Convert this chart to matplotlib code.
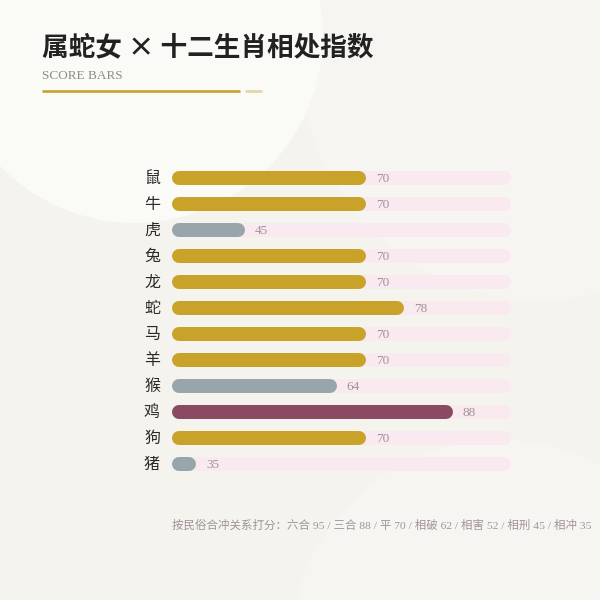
import matplotlib
matplotlib.use("Agg")
import matplotlib.pyplot as plt
from matplotlib.patches import Circle

# data
zodiac = ["鼠", "牛", "虎", "兔", "龙", "蛇", "马", "羊", "猴", "鸡", "狗", "猪"]
scores = [70, 70, 45, 70, 70, 78, 70, 70, 64, 88, 70, 35]
kinds = ["gold", "gold", "grey", "gold", "gold", "gold", "gold", "gold", "grey", "plum", "gold", "grey"]
title = "属蛇女 × 十二生肖相处指数"
subtitle = "SCORE BARS"
note = "按民俗合冲关系打分：六合 95 / 三合 88 / 平 70 / 相破 62 / 相害 52 / 相刑 45 / 相冲 35"

colors = {"gold": "#c9a22a", "grey": "#98a5ab", "plum": "#8a4a62"}
TRACK = "#f8eaef"
VAL_COLOR = "#a2929b"
CJK = "Noto Sans CJK SC"
SERIF = "Liberation Serif"

W, H, DPI = 600, 600, 100
fig = plt.figure(figsize=(W / DPI, H / DPI), dpi=DPI)
fig.patch.set_facecolor("#f4f3ee")

def fx(px):
    return px / W

def fy(py):
    return 1 - py / H

# soft background shapes
bg = fig.add_axes([0, 0, 1, 1], zorder=-5)
bg.set_xlim(0, W)
bg.set_ylim(H, 0)
bg.axis("off")
bg.add_patch(Circle((540, 60), 240, color="#f6f5f1", lw=0, zorder=0))
bg.add_patch(Circle((135, 35), 188, color="#fafaf7", lw=0, zorder=1))
bg.add_patch(Circle((500, 650), 210, color="#f6f5f1", lw=0, zorder=0))

# header
fig.text(fx(42), fy(48), title, fontsize=19.2, fontweight="bold", family=CJK,
         color="#222222", va="center", ha="left")
fig.text(fx(42), fy(76), subtitle, fontsize=9.5, family=SERIF,
         color="#8e8c86", va="center", ha="left")
bg.plot([42, 240], [91, 91], color="#c9a22a", lw=1.9, solid_capstyle="butt", zorder=3)
bg.plot([245, 262], [91, 91], color="#e2d6a6", lw=1.9, solid_capstyle="butt", zorder=3)

# bars
x0, x1 = 30, 100
left_px, right_px = 172, 511
row_px = 26
top_px = 178 - row_px / 2
n = len(zodiac)
ax = fig.add_axes([fx(left_px), fy(top_px + n * row_px), fx(right_px - left_px), n * row_px / H])
ax.set_xlim(x0, x1)
ax.set_ylim(n - 0.5, -0.5)
ax.axis("off")

bar_px = 14
lw_pt = bar_px * 72 / DPI
r = (bar_px / 2) * (x1 - x0) / (right_px - left_px)
px_to_data = (x1 - x0) / (right_px - left_px)

for i, (name, v, k) in enumerate(zip(zodiac, scores, kinds)):
    ax.plot([x0 + r, x1 - r], [i, i], color=TRACK, lw=lw_pt, solid_capstyle="round", zorder=1)
    ax.plot([x0 + r, v - r], [i, i], color=colors[k], lw=lw_pt, solid_capstyle="round", zorder=2)
    ax.text(v + 10 * px_to_data, i + 0.05, str(v), fontsize=9.5, family=SERIF, color=VAL_COLOR,
            va="center", ha="left", zorder=3)
    ax.text(x0 - 12 * px_to_data, i, name, fontsize=11.5, family=CJK, color="#2a2a2a",
            va="center", ha="right", clip_on=False)

# footnote
fig.text(fx(172), fy(525), note, fontsize=8.25, family=[SERIF, CJK],
         color="#a0939a", va="center", ha="left")

fig.savefig("out.png", dpi=DPI, facecolor=fig.get_facecolor())
